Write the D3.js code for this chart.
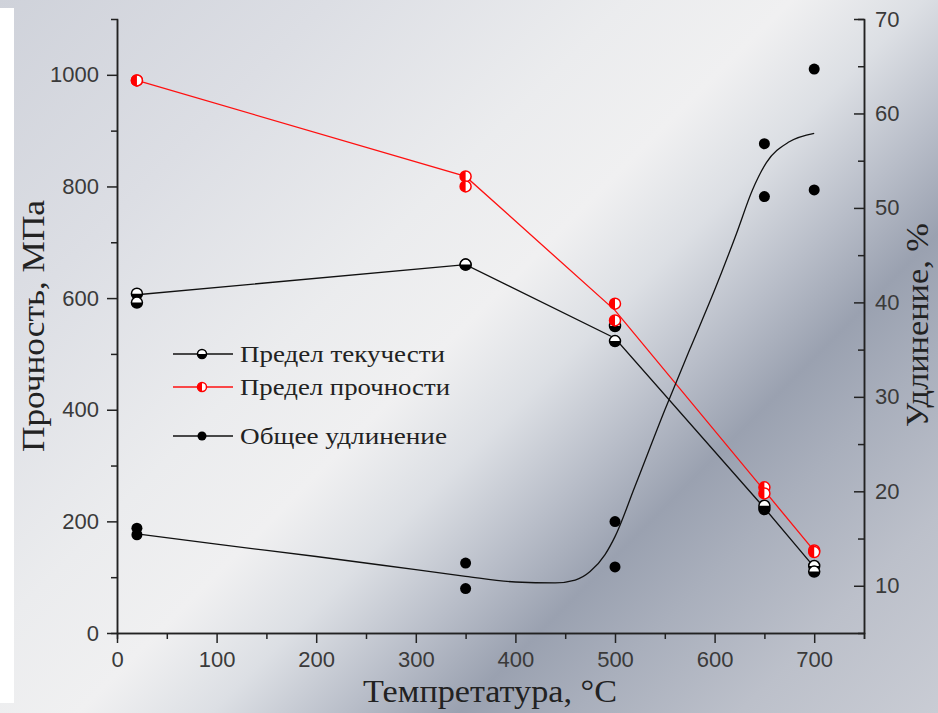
<!DOCTYPE html>
<html lang="ru">
<head>
    <meta charset="UTF-8">
    <title>Прочность и удлинение</title>
    <style>
        body {
            margin: 0;
            padding: 0;
            background-color: #ffffff;
        }
        svg {
            display: block;
        }
    </style>
    <script src="https://d3js.org/d3.v7.min.js"></script>
</head>
<body>
    <script>
        const width = 938;
        const height = 713;

        // temperatures of the tests, °C
        const temps = [20, 350, 500, 650, 700];

        // yield strength, MPa (two specimens + connecting line)
        const yieldA = [608, 660, 550, 222, 120];
        const yieldB = [592, 660, 523, 228, 110];
        const yieldLine = [606, 660, 528, 224, 118];

        // ultimate strength, MPa
        const utsA = [990, 818, 590, 261, 148];
        const utsB = [990, 800, 560, 250, 145];
        const utsLine = [990, 818, 578, 255, 147];

        // total elongation, %
        const elongA = [16.1, 12.4, 16.8, 56.8, 64.7];
        const elongB = [15.4, 9.7, 12.0, 51.2, 51.9];

        // fitted elongation curve
        const fitT = [20, 100, 200, 300, 350, 400, 440, 460, 475, 490, 500, 520, 550, 575, 600, 622, 638, 652, 675, 700];
        const fitV = [15.5, 14.4, 13.1, 11.7, 11.0, 10.4, 10.3, 10.6, 11.5, 13.3, 15.2, 20.5, 28.6, 35.0, 41.3, 47.3, 51.9, 54.8, 57.0, 57.9];

        const xTicks = [0, 100, 200, 300, 400, 500, 600, 700];
        const yLeftTicks = [0, 200, 400, 600, 800, 1000];
        const yRightTicks = [10, 20, 30, 40, 50, 60, 70];

        const legendNames = ["Предел текучести", "Предел прочности", "Общее удлинение"];

        const plot = {left: 117, right: 864, top: 19, bottom: 633};

        const x = d3.scaleLinear().domain([0, 750]).range([plot.left, plot.right]);
        const yL = d3.scaleLinear().domain([0, 1100]).range([plot.bottom, plot.top]);
        const yR = d3.scaleLinear().domain([5, 70]).range([plot.bottom, plot.top]);

        const svg = d3.select("body").append("svg")
            .attr("width", width)
            .attr("height", height);

        // background shading
        const defs = svg.append("defs");
        const grad = defs.append("linearGradient")
            .attr("id", "bg")
            .attr("gradientUnits", "userSpaceOnUse")
            .attr("x1", 0).attr("y1", 0)
            .attr("x2", 825).attr("y2", 825);
        [
            [0, "#cfd2da"], [0.2, "#dcdee4"], [0.38, "#ebecee"], [0.48, "#f0f0f1"],
            [0.56, "#dcdfe4"], [0.64, "#b9bec9"], [0.71, "#9aa1b0"], [0.78, "#a9afbc"],
            [0.88, "#bcc0ca"], [1, "#c9ccd4"]
        ].forEach(s => grad.append("stop").attr("offset", s[0]).attr("stop-color", s[1]));

        svg.append("rect").attr("width", width).attr("height", height).attr("fill", "url(#bg)");
        svg.append("rect").attr("x", 0).attr("y", 8).attr("width", 14).attr("height", 695).attr("fill", "#ffffff");

        const axisColor = "#222";
        const tickFont = "'Liberation Sans', Arial, sans-serif";
        const serif = "'Liberation Serif', 'Times New Roman', serif";
        const fmt = d3.format("d");

        function styleAxis(g) {
            g.select(".domain").attr("stroke", axisColor).attr("stroke-width", 1.5);
            g.selectAll(".tick line").attr("stroke", axisColor).attr("stroke-width", 1.5);
            g.selectAll(".tick text")
                .attr("fill", "#3a3a3a")
                .style("font-family", tickFont)
                .style("font-size", "22px");
        }

        // minor ticks
        svg.append("g")
            .attr("transform", `translate(0,${plot.bottom})`)
            .call(d3.axisBottom(x).tickValues(d3.range(50, 751, 100)).tickSize(6).tickFormat(""))
            .call(styleAxis);
        svg.append("g")
            .attr("transform", `translate(${plot.left},0)`)
            .call(d3.axisLeft(yL).tickValues(d3.range(100, 1100, 200)).tickSize(6).tickFormat(""))
            .call(styleAxis);
        svg.append("g")
            .attr("transform", `translate(${plot.right},0)`)
            .call(d3.axisLeft(yR).tickValues(d3.range(15, 70, 10)).tickSize(6).tickFormat(""))
            .call(styleAxis);

        // major ticks
        svg.append("g")
            .attr("transform", `translate(0,${plot.bottom})`)
            .call(d3.axisBottom(x).tickValues(xTicks).tickFormat(fmt).tickSize(10).tickPadding(8).tickSizeOuter(0))
            .call(styleAxis);
        svg.append("g")
            .attr("transform", `translate(${plot.left},0)`)
            .call(d3.axisLeft(yL).tickValues(yLeftTicks).tickFormat(fmt).tickSize(10).tickPadding(8).tickSizeOuter(0))
            .call(styleAxis);
        const rAxis = svg.append("g")
            .attr("transform", `translate(${plot.right},0)`)
            .call(d3.axisLeft(yR).tickValues(yRightTicks).tickFormat(fmt).tickSize(10).tickSizeOuter(0))
            .call(styleAxis);
        rAxis.selectAll(".tick text").attr("x", 11).attr("text-anchor", "start");

        // axis titles
        svg.append("text")
            .attr("x", 490).attr("y", 702)
            .attr("text-anchor", "middle")
            .attr("textLength", 254).attr("lengthAdjust", "spacingAndGlyphs")
            .style("font-family", serif).style("font-size", "31px").attr("fill", "#222")
            .text("Темпретатура, °C");
        svg.append("text")
            .attr("transform", "translate(44,326) rotate(-90)")
            .attr("text-anchor", "middle")
            .attr("textLength", 252).attr("lengthAdjust", "spacingAndGlyphs")
            .style("font-family", serif).style("font-size", "31px").attr("fill", "#222")
            .text("Прочность, МПа");
        svg.append("text")
            .attr("transform", "translate(928,325) rotate(-90)")
            .attr("text-anchor", "middle")
            .attr("textLength", 204).attr("lengthAdjust", "spacingAndGlyphs")
            .style("font-family", serif).style("font-size", "31px").attr("fill", "#222")
            .text("Удлинение, %");

        // lines
        const lineL = d3.line().x((d, i) => x(temps[i])).y(d => yL(d));
        svg.append("path").datum(yieldLine).attr("d", lineL)
            .attr("fill", "none").attr("stroke", "#111").attr("stroke-width", 1.3);
        svg.append("path").datum(utsLine).attr("d", lineL)
            .attr("fill", "none").attr("stroke", "#ff1010").attr("stroke-width", 1.3);

        const fitLine = d3.line().curve(d3.curveMonotoneX)
            .x((d, i) => x(fitT[i])).y(d => yR(d));
        svg.append("path").datum(fitV).attr("d", fitLine)
            .attr("fill", "none").attr("stroke", "#111").attr("stroke-width", 1.3);

        // half filled markers
        function halfMarker(g, cx, cy, r, color, side) {
            const m = g.append("g").attr("transform", `translate(${cx},${cy})`);
            m.append("circle").attr("r", r).attr("fill", "#fff").attr("stroke", color).attr("stroke-width", 1.5);
            const d = side === "bottom"
                ? `M${-r},0 A${r},${r} 0 0 0 ${r},0 Z`
                : `M0,${-r} A${r},${r} 0 0 0 0,${r} Z`;
            m.append("path").attr("d", d).attr("fill", color);
        }

        const marks = svg.append("g");
        [yieldA, yieldB].forEach(arr => arr.forEach((v, i) => halfMarker(marks, x(temps[i]), yL(v), 5.5, "#000", "bottom")));
        [utsA, utsB].forEach(arr => arr.forEach((v, i) => halfMarker(marks, x(temps[i]), yL(v), 5.5, "#ff0000", "left")));
        [elongA, elongB].forEach(arr => arr.forEach((v, i) => {
            marks.append("circle").attr("cx", x(temps[i])).attr("cy", yR(v)).attr("r", 5.5).attr("fill", "#000");
        }));

        // legend
        const legendY = [354, 387, 436];
        const legendLen = [205, 210, 207];
        const legendColors = ["#111", "#ff1010", "#111"];
        const legend = svg.append("g");
        legendNames.forEach((name, i) => {
            legend.append("line")
                .attr("x1", 173).attr("x2", 233).attr("y1", legendY[i]).attr("y2", legendY[i])
                .attr("stroke", legendColors[i]).attr("stroke-width", 1.3);
            if (i === 0) halfMarker(legend, 202, legendY[i], 4.5, "#000", "bottom");
            if (i === 1) halfMarker(legend, 202, legendY[i], 4.5, "#ff0000", "left");
            if (i === 2) legend.append("circle").attr("cx", 202).attr("cy", legendY[i]).attr("r", 4.5).attr("fill", "#000");
            legend.append("text")
                .attr("x", 240).attr("y", legendY[i] + 8)
                .attr("textLength", legendLen[i]).attr("lengthAdjust", "spacingAndGlyphs")
                .style("font-family", serif).style("font-size", "23px").attr("fill", "#222")
                .text(name);
        });
    </script>
</body>
</html>
